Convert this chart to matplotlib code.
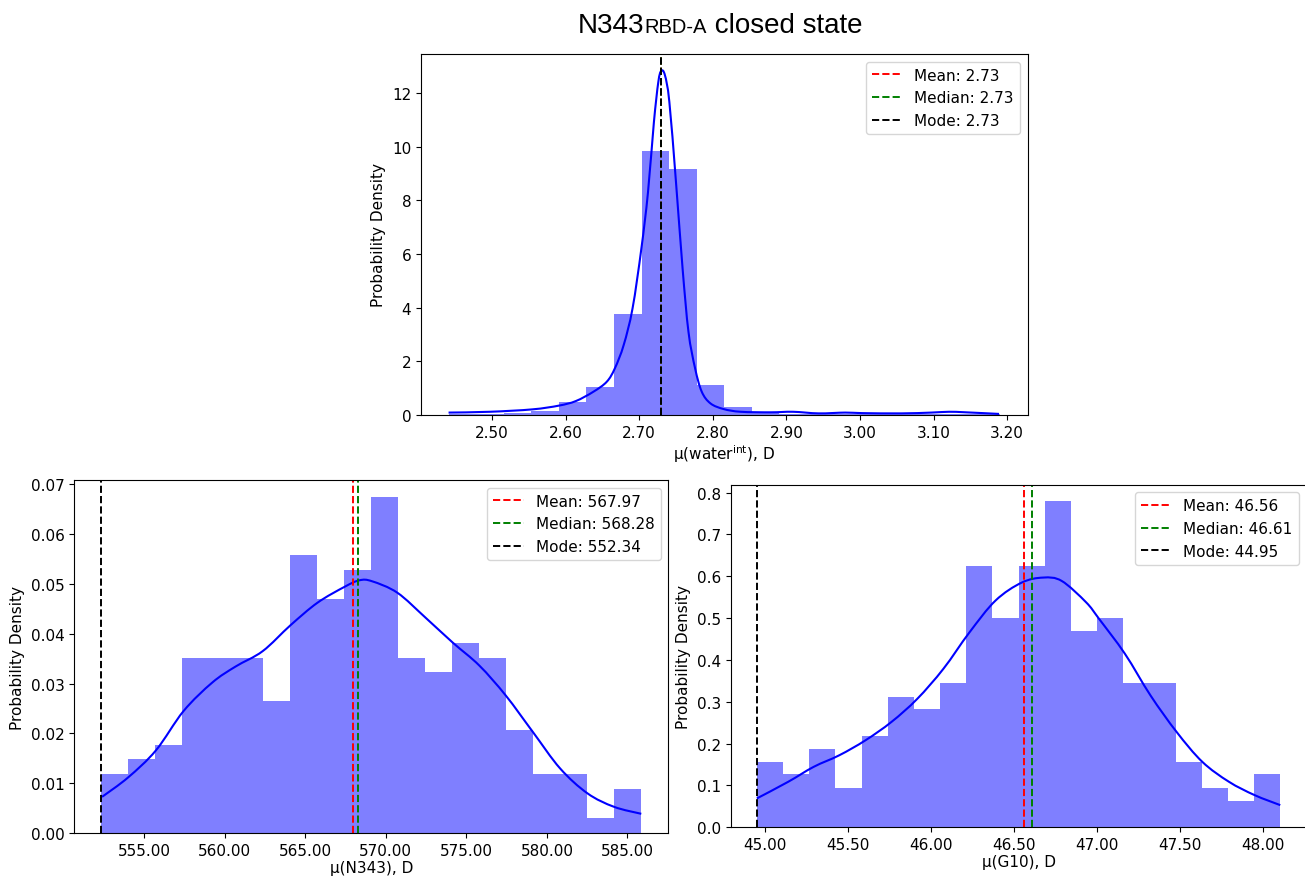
import matplotlib
matplotlib.use("Agg")
import matplotlib.pyplot as plt
import numpy as np
from matplotlib.path import Path
from matplotlib.patches import PathPatch
from matplotlib.ticker import FormatStrFormatter, MultipleLocator

# --- water (interface) dipole ---
water_range = (2.441, 3.1905)
water_density = [0.03, 0.05, 0.08, 0.16, 0.47, 1.03, 3.76, 9.83, 9.18, 1.10,
                 0.30, 0.12, 0.05, 0.05, 0.03, 0.05, 0.03, 0.03, 0.05, 0.03]
water_kde_x = [2.441, 2.497, 2.555, 2.591, 2.614, 2.638, 2.656, 2.667, 2.679,
               2.691, 2.703, 2.712, 2.720, 2.726, 2.730, 2.735, 2.741, 2.750,
               2.759, 2.767, 2.776, 2.785, 2.797, 2.815, 2.838, 2.879, 2.909,
               2.944, 2.980, 3.003, 3.056, 3.097, 3.121, 3.144, 3.189]
water_kde_y = [0.09, 0.12, 0.21, 0.35, 0.52, 0.87, 1.24, 1.74, 2.61,
               3.97, 6.20, 8.30, 10.90, 12.40, 12.82, 12.66, 11.67, 8.69,
               5.46, 3.10, 1.74, 0.87, 0.43, 0.22, 0.12, 0.10, 0.12,
               0.06, 0.09, 0.07, 0.06, 0.09, 0.12, 0.10, 0.04]
water_stats = [2.73, 2.73, 2.73]

# --- N343 dipole ---
n343_range = (552.34, 585.86)
n343_density = [0.0118, 0.0148, 0.0177, 0.0352, 0.0352, 0.0352, 0.0265, 0.0557,
                0.0469, 0.0528, 0.0674, 0.0352, 0.0324, 0.0382, 0.0352, 0.0206,
                0.0118, 0.0118, 0.0030, 0.0089]
n343_kde_x = [552.39, 554.01, 555.73, 557.45, 559.23, 560.67, 562.36, 564.09,
              565.76, 567.45, 568.37, 569.15, 570.72, 572.47, 574.16, 575.81,
              577.45, 579.13, 580.82, 582.52, 584.17, 585.86]
n343_kde_y = [0.0073, 0.0112, 0.0166, 0.0245, 0.0302, 0.0334, 0.0365, 0.0417,
              0.0462, 0.0494, 0.0507, 0.0505, 0.0482, 0.0432, 0.0382, 0.0336,
              0.0276, 0.0203, 0.0130, 0.0080, 0.0053, 0.0039]
n343_stats = [567.97, 568.28, 552.34]

# --- G10 dipole ---
g10_range = (44.95, 48.106)
g10_density = [0.1565, 0.127, 0.188, 0.0945, 0.218, 0.311, 0.2836, 0.345,
               0.624, 0.500, 0.624, 0.780, 0.469, 0.500, 0.345, 0.345,
               0.1565, 0.0945, 0.0635, 0.127]
g10_kde_x = [44.95, 45.140, 45.293, 45.448, 45.605, 45.762, 45.917, 46.075,
             46.232, 46.389, 46.547, 46.677, 46.788, 46.935, 47.014, 47.169,
             47.324, 47.481, 47.636, 47.796, 47.951, 48.106]
g10_kde_y = [0.069, 0.109, 0.1446, 0.1724, 0.208, 0.252, 0.307, 0.379,
             0.466, 0.542, 0.585, 0.597, 0.589, 0.538, 0.498, 0.415,
             0.315, 0.228, 0.1565, 0.109, 0.077, 0.053]
g10_stats = [46.56, 46.61, 44.95]

stat_names = ["Mean", "Median", "Mode"]
stat_colors = ["red", "green", "black"]

FS = 11


def smooth_path(xs, ys):
    # cubic bezier through every point (catmull-rom tangents)
    pts = np.column_stack([xs, ys])
    verts = [pts[0]]
    codes = [Path.MOVETO]
    n = len(pts)
    for i in range(n - 1):
        p0 = pts[max(i - 1, 0)]
        p1 = pts[i]
        p2 = pts[i + 1]
        p3 = pts[min(i + 2, n - 1)]
        verts += [p1 + (p2 - p0) / 6, p2 - (p3 - p1) / 6, p2]
        codes += [Path.CURVE4] * 3
    return Path(verts, codes)


def draw_panel(ax, rng, density, kde_x, kde_y, stats, xlabel, xstep):
    edges = np.linspace(rng[0], rng[1], len(density) + 1)
    ax.bar(edges[:-1], density, width=np.diff(edges), align="edge",
           color="blue", alpha=0.5, linewidth=0)
    ax.add_patch(PathPatch(smooth_path(kde_x, kde_y), facecolor="none",
                           edgecolor="blue", lw=1.5))
    for name, val, col in zip(stat_names, stats, stat_colors):
        ax.axvline(val, color=col, ls="--", lw=1.4, label=f"{name}: {val:.2f}")
    ax.set_xlabel(xlabel, fontsize=FS, labelpad=1.5)
    ax.set_ylabel("Probability Density", fontsize=FS)
    ax.xaxis.set_major_locator(MultipleLocator(xstep))
    ax.xaxis.set_major_formatter(FormatStrFormatter("%.2f"))
    ax.tick_params(labelsize=FS)
    ax.legend(loc="upper right", fontsize=FS, handlelength=2.0)


fig = plt.figure(figsize=(13.05, 8.78), dpi=100)

ax_top = fig.add_axes([0.3226, 0.5262, 0.4649, 0.4112])
ax_bl = fig.add_axes([0.0569, 0.0498, 0.4552, 0.4024])
ax_br = fig.add_axes([0.5599, 0.0566, 0.4412, 0.3902])

draw_panel(ax_top, water_range, water_density, water_kde_x, water_kde_y,
           water_stats, r"μ(water$^{\mathrm{int}}$), D", 0.1)
draw_panel(ax_bl, n343_range, n343_density, n343_kde_x, n343_kde_y,
           n343_stats, "μ(N343), D", 5)
draw_panel(ax_br, g10_range, g10_density, g10_kde_x, g10_kde_y,
           g10_stats, "μ(G10), D", 0.5)

ax_top.set_ylim(0, 13.45)
ax_bl.set_ylim(0, 0.0708)
ax_br.set_ylim(0, 0.819)

# title pieces: "N343" + smaller "RBD-A" + " closed state", sharing a baseline
title_parts = [("N343", 20), ("RBD-A", 14.5), (" closed state", 20)]
renderer = fig.canvas.get_renderer()
base_y = 1 - 33 / 878
texts = []
x = 0.0
for s, size in title_parts:
    t = fig.text(x, base_y, s, fontsize=size, family="Liberation Sans",
                 ha="left", va="baseline")
    bb = t.get_window_extent(renderer)
    x += bb.width / fig.bbox.width
    texts.append(t)
start = 720 / 1305 - x / 2
for t in texts:
    px, py = t.get_position()
    t.set_position((px + start, py))

fig.savefig("out.png", dpi=100)
